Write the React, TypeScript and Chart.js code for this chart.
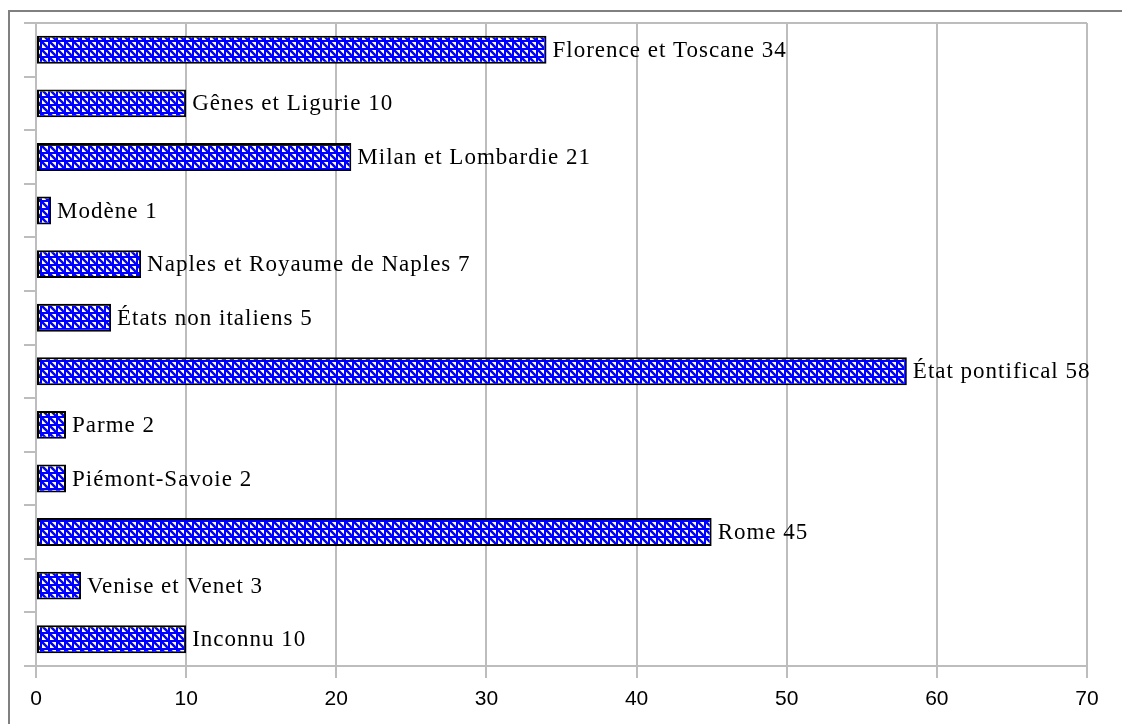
import React, { useEffect, useRef } from "react";
import { Chart, registerables } from "chart.js";

Chart.register(...registerables);

const categories = [
  "Florence et Toscane",
  "Gênes et Ligurie",
  "Milan et Lombardie",
  "Modène",
  "Naples et Royaume de Naples",
  "États non italiens",
  "État pontifical",
  "Parme",
  "Piémont-Savoie",
  "Rome",
  "Venise et Venet",
  "Inconnu",
];
const values = [34, 10, 21, 1, 7, 5, 58, 2, 2, 45, 3, 10];
const xMin = 0;
const xMax = 70;
const xStep = 10;

function makePattern(): CanvasPattern | string {
  const c = document.createElement("canvas");
  c.width = 8;
  c.height = 8;
  const g = c.getContext("2d");
  if (!g) return "#0000ff";
  g.fillStyle = "#ffffff";
  g.fillRect(0, 0, 8, 8);
  g.fillStyle = "#0000ff";
  g.fillRect(0, 0, 8, 2);
  g.fillRect(0, 0, 2, 8);
  g.strokeStyle = "#0000ff";
  g.lineWidth = 2.5;
  g.beginPath();
  g.moveTo(-1, -1);
  g.lineTo(9, 9);
  g.stroke();
  const p = g.createPattern(c, "repeat");
  return p || "#0000ff";
}

const framePlugin = {
  id: "frame",
  beforeDraw(chart: any) {
    const ctx = chart.ctx;
    ctx.save();
    ctx.fillStyle = "#ffffff";
    ctx.fillRect(0, 0, chart.width, chart.height);
    ctx.strokeStyle = "#808080";
    ctx.lineWidth = 2;
    ctx.beginPath();
    ctx.moveTo(9, chart.height + 5);
    ctx.lineTo(9, 11);
    ctx.lineTo(chart.width + 5, 11);
    ctx.stroke();
    ctx.restore();
  },
};

const labelPlugin = {
  id: "barLabels",
  afterDatasetsDraw(chart: any) {
    const ctx = chart.ctx;
    const meta = chart.getDatasetMeta(0);
    ctx.save();
    ctx.font = '23px "Liberation Serif", "Times New Roman", serif';
    try {
      (ctx as any).letterSpacing = "1px";
    } catch (e) {}
    ctx.fillStyle = "#000000";
    ctx.textAlign = "left";
    ctx.textBaseline = "middle";
    meta.data.forEach((bar: any, i: number) => {
      const text = `${categories[i]} ${values[i]}`;
      ctx.fillText(text, bar.x + 6, bar.y + 1);
    });
    ctx.restore();
  },
};

export default function App() {
  const ref = useRef<HTMLCanvasElement | null>(null);

  useEffect(() => {
    document.body.style.margin = "0";
    document.body.style.overflow = "hidden";
    if (!ref.current) return;
    const pattern = makePattern();
    const chart = new Chart(ref.current, {
      type: "bar",
      data: {
        labels: categories,
        datasets: [
          {
            data: values,
            backgroundColor: pattern as any,
            borderColor: "#000000",
            borderWidth: 2,
            borderSkipped: false,
            categoryPercentage: 1,
            barPercentage: 0.52,
          },
        ],
      },
      options: {
        indexAxis: "y",
        animation: false,
        responsive: false,
        maintainAspectRatio: false,
        layout: { padding: { left: 24, top: 23, right: 35, bottom: 0 } },
        plugins: {
          legend: { display: false },
          tooltip: { enabled: false },
          title: { display: false },
        },
        scales: {
          x: {
            type: "linear",
            min: xMin,
            max: xMax,
            ticks: {
              stepSize: xStep,
              color: "#000000",
              font: { family: '"Liberation Sans"', size: 21 },
              padding: 9,
            },
            grid: {
              color: "#bdbdbd",
              lineWidth: 2,
              tickLength: 12,
              tickColor: "#bdbdbd",
            },
            border: { display: true, color: "#bdbdbd", width: 2 },
            afterFit(scale: any) {
              scale.height = 58;
            },
          },
          y: {
            type: "category",
            offset: true,
            ticks: { display: false },
            grid: {
              offset: true,
              drawOnChartArea: true,
              tickLength: 12,
              lineWidth: 2,
              color: (ctx: any) =>
                ctx.index === 0 || ctx.index === categories.length
                  ? "#bdbdbd"
                  : "rgba(0,0,0,0)",
              tickColor: "#bdbdbd",
            },
            border: { display: true, color: "#bdbdbd", width: 2 },
            afterFit(scale: any) {
              scale.width = 12;
            },
          },
        },
      },
      plugins: [framePlugin, labelPlugin],
    });
    return () => chart.destroy();
  }, []);

  return (
    <div style={{ width: 1122, height: 724 }}>
      <canvas ref={ref} width={1122} height={724} style={{ display: "block" }} />
    </div>
  );
}
